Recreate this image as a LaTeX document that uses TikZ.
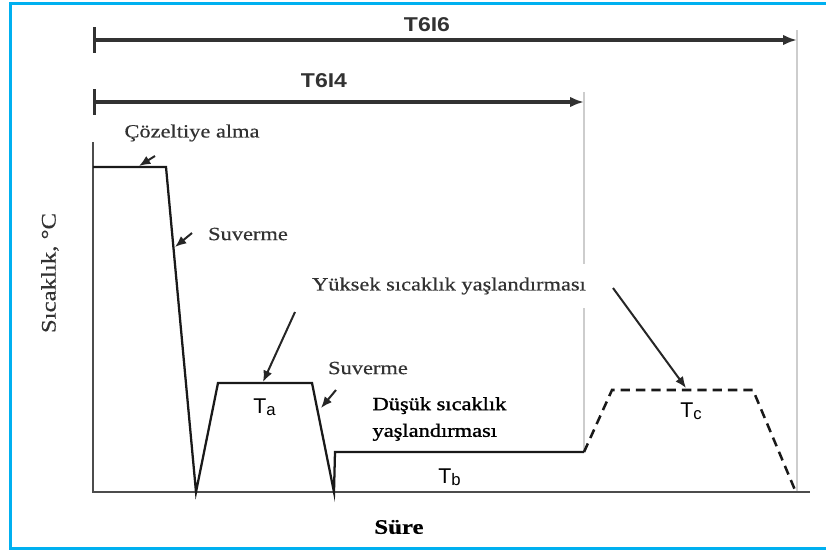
\documentclass[tikz,border=0pt]{standalone}
\usepackage{fontspec}
\setmainfont{Liberation Serif}[FakeStretch=1.2, FakeBold=0.5]
\newfontfamily\heavyserif{Liberation Serif}[FakeStretch=1.2, FakeBold=1.4]
\newfontfamily\spanfont{Liberation Sans}[FakeStretch=1.15]
\newfontfamily\levelfont{Liberation Sans}
\usetikzlibrary{arrows.meta}

\definecolor{frameblue}{RGB}{0,176,240}
\definecolor{textgray}{RGB}{50,50,50}
\definecolor{guidegray}{RGB}{205,205,205}

\newcommand{\tlevel}[1]{T\raisebox{-1.5pt}{\fontsize{12.5}{12.5}\selectfont #1}}

\tikzset{
    curve/.style={line width=1.7pt, black!90, line join=miter},
    span/.style={line width=2.3pt, textgray, {Bar[width=19pt]}-{Latex[length=10.5pt, width=8pt]}},
    pointer/.style={line width=1.5pt, black!85, -{Latex[length=8.5pt, width=7pt]}},
    lbl/.style={textgray, font=\fontsize{14}{20}\selectfont, inner sep=1pt},
    spanlbl/.style={textgray, font=\spanfont\bfseries\fontsize{15}{15}\selectfont},
    templbl/.style={font=\levelfont\fontsize{16}{16}\selectfont, anchor=base west, inner sep=0pt}
}

\begin{document}
\begin{tikzpicture}[x=0.75pt, y=-0.75pt]
    \useasboundingbox (0,0) rectangle (826,551);
    % frame
    \draw[frameblue, line width=2.25pt] (830,3) -- (10,3) -- (10,548) -- (830,548);
    % guides
    \draw[guidegray, line width=0.8pt] (584,92) -- (584,452);
    \draw[guidegray, line width=0.8pt] (797,30) -- (797,492);
    % axes
    \coordinate (ytop) at (93,142);
    \coordinate (o) at (93,492);
    \coordinate (xend) at (810,492);
    \draw[line width=2pt, black!70] (ytop) -- (o) -- (xend);
    % profile
    \coordinate (p0) at (93,167);
    \coordinate (p1) at (166,167);
    \coordinate (p2) at (196,492);
    \coordinate (p3) at (218,383);
    \coordinate (p4) at (312,383);
    \coordinate (p5) at (334,492);
    \coordinate (p6) at (335,452);
    \coordinate (p7) at (584,452);
    \coordinate (p8) at (612,390);
    \coordinate (p9) at (753,390);
    \coordinate (p10) at (795,490);
    \draw[curve] (p0) -- (p1) -- (p2) -- (p3) -- (p4) -- (p5) -- (p6) -- (p7);
    \draw[curve, line width=1.9pt, dash pattern=on 7pt off 4.5pt] (p7) -- (p8) -- (p9) -- (p10);
    % spans
    \coordinate (s6a) at (93,40);
    \coordinate (s6b) at (797,40);
    \coordinate (s4a) at (93,102);
    \coordinate (s4b) at (584,102);
    \draw[span] (s6a) -- (s6b);
    \draw[span] (s4a) -- (s4b);
    \node[spanlbl] (t6i6) at (427,25) {T6I6};
    \node[spanlbl] (t6i4) at (324,81) {T6I4};
    % labels
    \node[lbl] (cozelti) at (192,133) {Çözeltiye alma};
    \node[lbl] (suv1) at (248,234) {Suverme};
    \node[lbl, fill=white, minimum height=33pt] (yuksek) at (449,286) {Yüksek sıcaklık yaşlandırması};
    \node[lbl] (suv2) at (368,368) {Suverme};
    \node[lbl, black, align=left, anchor=west, font=\heavyserif\fontsize{14}{20}\selectfont] (dusuk) at (371,419) {Düşük sıcaklık\\yaşlandırması};
    \node[lbl, black, font=\bfseries\fontsize{15.5}{15.5}\selectfont] (sure) at (399,527) {Süre};
    \node[lbl, rotate=90, font=\fontsize{15.5}{15.5}\selectfont] (sicaklik) at (50,273) {Sıcaklık, °C};
    \node[templbl] (ta) at (253,413) {\tlevel{a}};
    \node[templbl] (tb) at (438,483) {\tlevel{b}};
    \node[templbl] (tc) at (680,417) {\tlevel{c}};
    % pointers
    \coordinate (c1) at (155,156);
    \coordinate (h1) at (139,166);
    \coordinate (c2) at (192,233);
    \coordinate (h2) at (175,247);
    \coordinate (c3) at (295,312);
    \coordinate (h3) at (263,382);
    \coordinate (c4) at (613,288);
    \coordinate (h4) at (686,388);
    \coordinate (c5) at (336,390);
    \coordinate (h5) at (321,408);
    \draw[pointer] (c1) -- (h1);
    \draw[pointer] (c2) -- (h2);
    \draw[pointer] (c3) -- (h3);
    \draw[pointer] (c4) -- (h4);
    \draw[pointer] (c5) -- (h5);
\end{tikzpicture}
\end{document}
